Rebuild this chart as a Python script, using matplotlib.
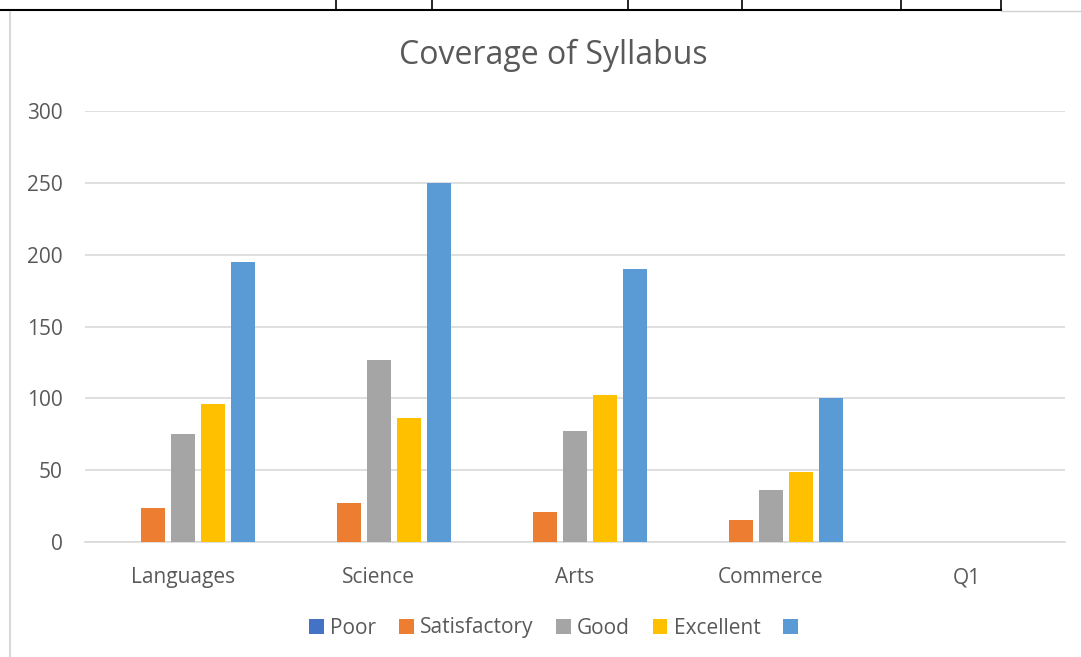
import numpy as np
import matplotlib.pyplot as plt
from matplotlib.patches import Patch
from matplotlib.lines import Line2D

categories = ['Languages', 'Science', 'Arts', 'Commerce', 'Q1']
series_names = ['Poor', 'Satisfactory', 'Good', 'Excellent', '']
poor = [0, 0, 0, 0, 0]
satisfactory = [24, 27, 21, 15, 0]
good = [75, 127, 77, 36, 0]
excellent = [96, 86, 102, 49, 0]
blank = [195, 250, 190, 100, 0]
colors = ['#4472C4', '#ED7D31', '#A5A5A5', '#FFC000', '#5B9BD5']

plt.rcParams['font.family'] = ['Open Sans', 'DejaVu Sans']
txt = '#595959'

fig = plt.figure(figsize=(10.81, 6.57), dpi=100)
ax = fig.add_axes([0.0786, 0.175, 0.9064, 0.656])

x = np.arange(len(categories))
pitch = 0.153
width = 0.12
for i, vals in enumerate([poor, satisfactory, good, excellent, blank]):
    ax.bar(x + (i - 2) * pitch, vals, width, color=colors[i], zorder=3)

ax.set_xlim(-0.5, 4.5)
ax.set_ylim(0, 300)
ax.set_yticks(range(0, 301, 50))
ax.set_xticks(x)
ax.set_xticklabels(categories)
ax.tick_params(length=0, labelsize=15, labelcolor=txt)
ax.tick_params(axis='y', pad=16)
ax.tick_params(axis='x', pad=18)
ax.grid(axis='y', color='#d9d9d9', lw=1.2, zorder=0)
for s in ['top', 'right', 'left']:
    ax.spines[s].set_visible(False)
ax.spines['bottom'].set_color('#d9d9d9')
ax.spines['bottom'].set_linewidth(1.2)

fig.text(553 / 1081, 1 - 55 / 657, 'Coverage of Syllabus', fontsize=23,
         color=txt, ha='center', va='center')

handles = [Patch(facecolor=c) for c in colors]
fig.legend(handles, series_names, loc='center', bbox_to_anchor=(0.515, 1 - 628 / 657),
           ncol=5, frameon=False, fontsize=15, labelcolor=txt,
           handlelength=0.7, handleheight=0.7, handletextpad=0.3,
           columnspacing=1.1)

# surrounding document lines
H, W = 657, 1081
def fx(px): return px / W
def fy(py): return 1 - py / H
fig.add_artist(Line2D([fx(0), fx(1001)], [fy(10), fy(10)], color='black', lw=1.5))
fig.add_artist(Line2D([fx(1001), fx(1081)], [fy(11), fy(11)], color='#d0d0d0', lw=1))
for px in [336, 432, 628, 742, 901, 1001]:
    fig.add_artist(Line2D([fx(px), fx(px)], [fy(0), fy(10)], color='black', lw=1.2))
fig.add_artist(Line2D([fx(10), fx(10)], [fy(12), fy(657)], color='#d9d9d9', lw=1.5))

fig.savefig('out.png', dpi=100)
